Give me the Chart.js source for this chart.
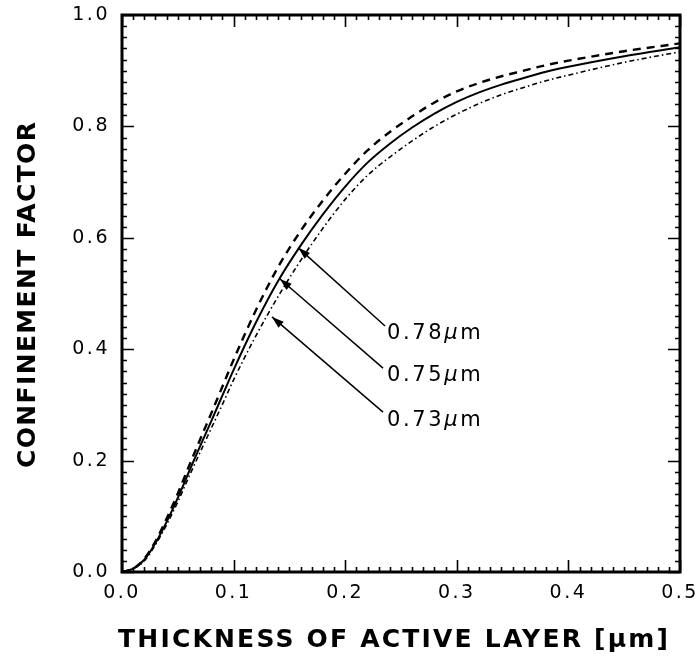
<!DOCTYPE html>
<html>
<head>
<meta charset="utf-8">
<script src="https://cdn.jsdelivr.net/npm/chart.js@4/dist/chart.umd.min.js"></script>
<style>
  html, body { margin: 0; padding: 0; background: #fff; }
  #wrap { width: 697px; height: 665px; }
</style>
</head>
<body>
<div id="wrap"><canvas id="c" width="697" height="665"></canvas></div>
<script>
// Active-layer thickness in micrometres
const thickness = [0, 0.01, 0.02, 0.03, 0.04, 0.05, 0.06, 0.07, 0.08, 0.09, 0.10, 0.12, 0.14, 0.16, 0.18, 0.20, 0.22, 0.24, 0.26, 0.28, 0.30, 0.32, 0.34, 0.36, 0.38, 0.40, 0.45, 0.50];

// Confinement factor for each wavelength
const gamma073 = [0, 0.006, 0.024, 0.055, 0.096, 0.141, 0.190, 0.238, 0.285, 0.333, 0.381, 0.470, 0.548, 0.612, 0.667, 0.715, 0.757, 0.790, 0.818, 0.843, 0.863, 0.878, 0.890, 0.900, 0.910, 0.918, 0.935, 0.949];
const gamma075 = [0, 0.006, 0.022, 0.052, 0.090, 0.133, 0.180, 0.226, 0.271, 0.317, 0.363, 0.448, 0.523, 0.586, 0.642, 0.692, 0.735, 0.769, 0.798, 0.823, 0.844, 0.861, 0.875, 0.887, 0.898, 0.907, 0.926, 0.942];
const gamma078 = [0, 0.006, 0.020, 0.049, 0.085, 0.126, 0.171, 0.215, 0.258, 0.301, 0.345, 0.424, 0.495, 0.559, 0.617, 0.669, 0.712, 0.745, 0.774, 0.800, 0.822, 0.841, 0.857, 0.870, 0.882, 0.892, 0.915, 0.934];

// Axis tick values
const xTicks = [0.0, 0.1, 0.2, 0.3, 0.4, 0.5];
const yTicks = [0.0, 0.2, 0.4, 0.6, 0.8, 1.0];

// Wavelength callouts (data units): arrow tip, arrow tail, label anchor
const calloutValue = ['0.78', '0.75', '0.73'];
const calloutTip  = [[0.158, 0.582], [0.1416, 0.526], [0.1344, 0.458]];
const calloutTail = [[0.2357, 0.4417], [0.2339, 0.366], [0.2339, 0.287]];
const calloutAt   = [[0.2375, 0.429], [0.2375, 0.3524], [0.2375, 0.2717]];

const xTitle = 'THICKNESS OF ACTIVE LAYER [\u03BCm]';
const yTitle = 'CONFINEMENT FACTOR';

const toPoints = ys => thickness.map((t, i) => ({ x: t, y: ys[i] }));

// Draws text with letter spacing so it spans a given width
function spacedText(ctx, text, cx, cy, width) {
  ctx.letterSpacing = '0px';
  const natural = ctx.measureText(text).width;
  const sp = Math.max(0, (width - natural) / (text.length - 1));
  ctx.letterSpacing = sp.toFixed(2) + 'px';
  ctx.textAlign = 'left';
  ctx.fillText(text, cx - width / 2, cy);
  ctx.letterSpacing = '0px';
}

// Wavelength label: upright digits, italic mu, upright m
function wavelengthLabel(ctx, value, x0, cy) {
  const parts = [[value, '21px "DejaVu Sans"'], ['\u03BC', 'italic 21px "DejaVu Sans"'], ['m', '21px "DejaVu Sans"']];
  ctx.letterSpacing = '2.6px';
  ctx.textAlign = 'left';
  let x = x0;
  for (const [t, f] of parts) {
    ctx.font = f;
    ctx.fillText(t, x, cy);
    x += ctx.measureText(t).width;
  }
  ctx.letterSpacing = '0px';
}

// Widen the tick-label lettering while the axes are drawn
const tickSpacing = {
  id: 'tickSpacing',
  beforeDraw(chart) { chart.ctx.letterSpacing = '2.5px'; },
  beforeDatasetsDraw(chart) { chart.ctx.letterSpacing = '0px'; }
};

const framePlugin = {
  id: 'frame',
  afterDatasetsDraw(chart) {
    const { ctx, chartArea: a, scales: { x, y } } = chart;
    ctx.save();
    ctx.letterSpacing = '0px';
    ctx.strokeStyle = '#000';
    ctx.fillStyle = '#000';
    ctx.lineCap = 'butt';

    // inward tick marks on all four sides
    ctx.lineWidth = 1.6;
    ctx.beginPath();
    for (let i = 0; i <= 50; i++) {
      const px = Math.round(x.getPixelForValue(i / 100)) + 0.5;
      const len = i % 10 === 0 ? 12 : 5;
      ctx.moveTo(px, a.bottom); ctx.lineTo(px, a.bottom - len);
      ctx.moveTo(px, a.top); ctx.lineTo(px, a.top + len);
    }
    for (let i = 0; i <= 50; i++) {
      const py = Math.round(y.getPixelForValue(i / 50)) + 0.5;
      const len = i % 10 === 0 ? 12 : 5;
      ctx.moveTo(a.left, py); ctx.lineTo(a.left + len, py);
      ctx.moveTo(a.right, py); ctx.lineTo(a.right - len, py);
    }
    ctx.stroke();

    // plot frame
    ctx.lineWidth = 3;
    ctx.strokeRect(a.left, a.top, a.right - a.left, a.bottom - a.top);

    // callout arrows and labels
    ctx.lineWidth = 1.5;
    ctx.textBaseline = 'middle';
    for (let i = 0; i < calloutValue.length; i++) {
      const tx = x.getPixelForValue(calloutTip[i][0]);
      const ty = y.getPixelForValue(calloutTip[i][1]);
      const sx = x.getPixelForValue(calloutTail[i][0]);
      const sy = y.getPixelForValue(calloutTail[i][1]);
      ctx.beginPath();
      ctx.moveTo(sx, sy); ctx.lineTo(tx, ty);
      ctx.stroke();
      const ang = Math.atan2(ty - sy, tx - sx);
      const hl = 12, hw = 4;
      const bx = tx - hl * Math.cos(ang), by = ty - hl * Math.sin(ang);
      ctx.beginPath();
      ctx.moveTo(tx, ty);
      ctx.lineTo(bx + hw * Math.sin(ang), by - hw * Math.cos(ang));
      ctx.lineTo(bx - hw * Math.sin(ang), by + hw * Math.cos(ang));
      ctx.closePath();
      ctx.fill();
      const lx = x.getPixelForValue(calloutAt[i][0]);
      const ly = y.getPixelForValue(calloutAt[i][1]);
      wavelengthLabel(ctx, calloutValue[i], lx, ly);
    }

    // axis titles
    ctx.font = 'bold 25px "DejaVu Sans"';
    ctx.textBaseline = 'middle';
    spacedText(ctx, xTitle, 393, 640, 550);
    ctx.save();
    ctx.translate(28, 295);
    ctx.rotate(-Math.PI / 2);
    spacedText(ctx, yTitle, 0, 0, 346);
    ctx.restore();

    ctx.restore();
  }
};

new Chart(document.getElementById('c'), {
  type: 'line',
  data: {
    datasets: [
      { label: '0.73\u03BCm', data: toPoints(gamma073), borderColor: '#000', borderWidth: 2.4, borderDash: [8, 6], pointRadius: 0, cubicInterpolationMode: 'monotone', fill: false },
      { label: '0.75\u03BCm', data: toPoints(gamma075), borderColor: '#000', borderWidth: 2, pointRadius: 0, cubicInterpolationMode: 'monotone', fill: false },
      { label: '0.78\u03BCm', data: toPoints(gamma078), borderColor: '#000', borderWidth: 1.6, borderDash: [5, 3, 1.5, 3], pointRadius: 0, cubicInterpolationMode: 'monotone', fill: false }
    ]
  },
  options: {
    responsive: false,
    animation: false,
    layout: { padding: { left: 0, top: 15, right: 17, bottom: 0 } },
    plugins: { legend: { display: false }, tooltip: { enabled: false } },
    scales: {
      x: {
        type: 'linear', min: 0, max: 0.5,
        grid: { display: false, drawTicks: false },
        border: { display: false },
        afterBuildTicks: s => { s.ticks = xTicks.map(v => ({ value: v })); },
        afterFit: s => { s.height = 93; s.paddingLeft = 0; s.paddingRight = 0; },
        ticks: { color: '#000', padding: 10, maxRotation: 0, font: { family: 'DejaVu Sans', size: 19 }, callback: v => Number(v).toFixed(1) }
      },
      y: {
        type: 'linear', min: 0, max: 1.0,
        grid: { display: false, drawTicks: false },
        border: { display: false },
        afterBuildTicks: s => { s.ticks = yTicks.map(v => ({ value: v })); },
        afterFit: s => { s.width = 122; s.paddingTop = 0; s.paddingBottom = 0; },
        ticks: { color: '#000', padding: 12, font: { family: 'DejaVu Sans', size: 19 }, callback: v => Number(v).toFixed(1) }
      }
    }
  },
  plugins: [tickSpacing, framePlugin]
});
</script>
</body>
</html>
